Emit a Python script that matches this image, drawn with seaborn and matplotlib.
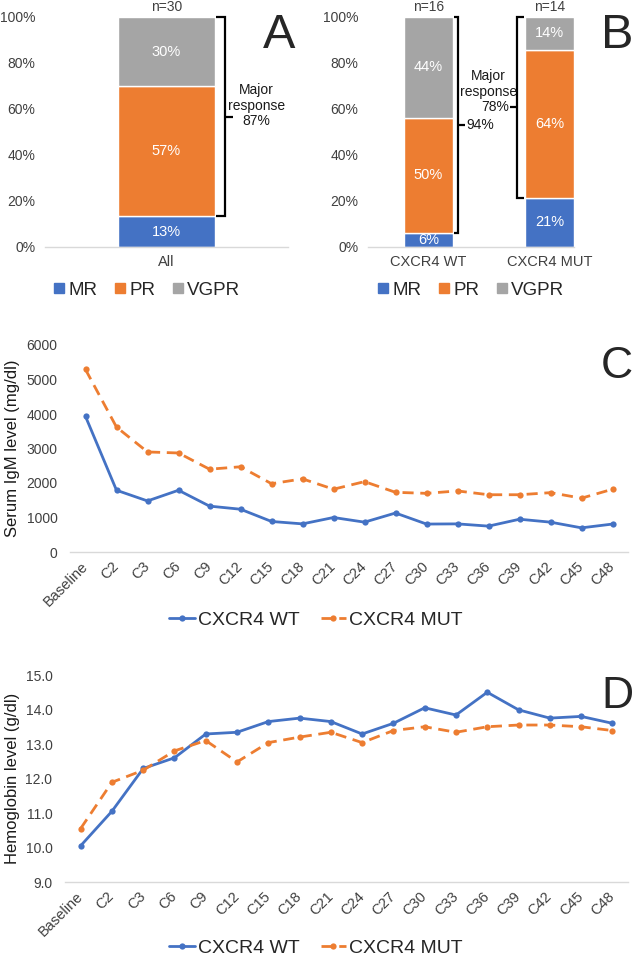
import matplotlib
matplotlib.use("Agg")
import matplotlib.pyplot as plt
from matplotlib.lines import Line2D
import numpy as np
import pandas as pd
import seaborn as sns

# response categories (panels A and B)
responses = ["MR", "PR", "VGPR"]
response_colors = ["#4472C4", "#ED7D31", "#A5A5A5"]

all_groups = ["All"]
all_n = [30]
all_pct = {"MR": [13.3], "PR": [56.7], "VGPR": [30.0]}
all_major = [87]

cxcr4_groups = ["CXCR4 WT", "CXCR4 MUT"]
cxcr4_n = [16, 14]
cxcr4_pct = {"MR": [6.25, 21.4], "PR": [50.0, 64.3], "VGPR": [43.75, 14.3]}
cxcr4_major = [94, 78]

# time courses (panels C and D)
cycles = ["Baseline", "C2", "C3", "C6", "C9", "C12", "C15", "C18", "C21",
          "C24", "C27", "C30", "C33", "C36", "C39", "C42", "C45", "C48"]
igm_wt = [3930, 1790, 1480, 1790, 1330, 1240, 885, 815, 1000,
          865, 1130, 810, 815, 750, 950, 865, 700, 810]
igm_mut = [5290, 3620, 2900, 2870, 2400, 2470, 1980, 2120, 1820,
           2040, 1730, 1700, 1770, 1660, 1660, 1720, 1560, 1820]
hgb_wt = [10.05, 11.05, 12.29, 12.60, 13.29, 13.34, 13.65, 13.75, 13.65,
          13.29, 13.60, 14.05, 13.84, 14.50, 13.99, 13.75, 13.80, 13.60]
hgb_mut = [10.55, 11.89, 12.24, 12.80, 13.10, 12.48, 13.04, 13.20, 13.34,
           13.04, 13.39, 13.50, 13.34, 13.50, 13.55, 13.55, 13.50, 13.39]

WT_COLOR = "#4472C4"
MUT_COLOR = "#ED7D31"
TEXT = "#404040"
BAR_W = 0.4

sns.set_style("white")
plt.rcParams["font.family"] = ["Liberation Sans", "DejaVu Sans"]

W, H = 632, 957
fig = plt.figure(figsize=(W / 100, H / 100), dpi=100)


def add_axes_px(left, top, right, bottom):
    return fig.add_axes([left / W, 1 - bottom / H, (right - left) / W, (bottom - top) / H])


def style_axes(ax):
    for side in ["top", "right", "left"]:
        ax.spines[side].set_visible(False)
    ax.spines["bottom"].set_color("#D9D9D9")
    ax.spines["bottom"].set_linewidth(1.0)
    ax.tick_params(length=0, labelsize=10, labelcolor=TEXT)
    ax.set_xlabel("")
    ax.set_ylabel("")


def stacked_bars(ax, groups, pct, n):
    cum = np.zeros(len(groups))
    for resp, color in zip(responses, response_colors):
        vals = np.array(pct[resp], dtype=float)
        sns.barplot(x=groups, y=vals, bottom=cum, color=color, width=BAR_W,
                    saturation=1, errorbar=None, ax=ax)
        for i, (v, b) in enumerate(zip(vals, cum)):
            ax.text(i, b + v / 2, f"{v:.0f}%", color="white", ha="center",
                    va="center", fontsize=10.5)
        cum = cum + vals
    for i, cnt in enumerate(n):
        ax.annotate(f"n={cnt}", xy=(i, 100), xytext=(0, 2), textcoords="offset points",
                    ha="center", va="bottom", fontsize=10, color=TEXT)
    ax.set_ylim(0, 100)
    ax.set_yticks(range(0, 101, 20))
    ax.set_yticklabels([f"{t}%" for t in range(0, 101, 20)])
    style_axes(ax)
    ax.tick_params(axis="y", pad=7)
    ax.tick_params(axis="x", pad=6, labelsize=10.5)


def brace(ax, px, x_edge, gap, y0, y1, tick, lw=1.6):
    # px: data units per pixel on x; gap > 0 right of bar, < 0 left of bar
    xv = x_edge + gap * px
    x_arm = x_edge + np.sign(gap) * px
    ax.plot([x_arm, xv, xv, x_arm], [y1, y1, y0, y0], color="black", lw=lw,
            clip_on=False, solid_capstyle="butt", solid_joinstyle="miter")
    ym = (y0 + y1) / 2
    ax.plot([xv, xv + tick * px], [ym, ym], color="black", lw=lw, clip_on=False,
            solid_capstyle="butt")
    return xv + tick * px, ym


def bar_legend(x_center, y_center):
    handles = [Line2D([], [], marker="s", linestyle="", color=c, markersize=7)
               for c in response_colors]
    fig.legend(handles, responses, loc="center", ncol=3, frameon=False, fontsize=13.5,
               bbox_to_anchor=(x_center / W, 1 - y_center / H),
               handletextpad=0.2, columnspacing=0.9, handlelength=0.6)


# ---- panel A
axA = add_axes_px(45, 17, 288, 247)
stacked_bars(axA, all_groups, all_pct, all_n)
axA.set_xlim(-0.5, 0.5)
pxA = 1.0 / 243
edge = BAR_W / 2
mr = all_pct["MR"][0]
tx, ty = brace(axA, pxA, edge, 10, mr, 100, 8)
axA.annotate(f"Major\nresponse\n{all_major[0]}%", xy=(tx, ty), xytext=(17, 8),
             textcoords="offset points", ha="center", va="center", fontsize=10,
             linespacing=1.15, color="#1a1a1a")
bar_legend(147, 290)

# ---- panel B
axB = add_axes_px(368, 17, 610, 247)
stacked_bars(axB, cxcr4_groups, cxcr4_pct, cxcr4_n)
axB.set_xlim(-0.5, 1.5)
axB.spines["bottom"].set_bounds(-0.5, 1.2)
pxB = 2.0 / 242
tx, ty = brace(axB, pxB, 0 + BAR_W / 2, 5, cxcr4_pct["MR"][0], 100, 7)
axB.annotate(f"{cxcr4_major[0]}%", xy=(tx, ty), xytext=(1.5, 0), textcoords="offset points",
             ha="left", va="center", fontsize=10, color="#1a1a1a")
tx, ty = brace(axB, pxB, 1 - BAR_W / 2, -8, cxcr4_pct["MR"][1], 100, -7)
axB.annotate(f"{cxcr4_major[1]}%", xy=(tx, ty), xytext=(-0.7, 0), textcoords="offset points",
             ha="right", va="center", fontsize=10, color="#1a1a1a")
axB.annotate("Major\nresponse", xy=(tx, ty), xytext=(-16, 17), textcoords="offset points",
             ha="center", va="center", fontsize=10, linespacing=1.15, color="#1a1a1a")
bar_legend(471, 290)


# ---- line panels
def line_panel(ax, wt, mut, ylim, step, fmt, ylabel, label_x):
    df = pd.DataFrame({
        "cycle": cycles * 2,
        "value": list(wt) + list(mut),
        "group": ["CXCR4 WT"] * len(cycles) + ["CXCR4 MUT"] * len(cycles),
    })
    sns.lineplot(data=df, x="cycle", y="value", hue="group", style="group",
                 palette={"CXCR4 WT": WT_COLOR, "CXCR4 MUT": MUT_COLOR},
                 dashes={"CXCR4 WT": "", "CXCR4 MUT": (4, 2.4)},
                 markers={"CXCR4 WT": "o", "CXCR4 MUT": "o"},
                 markersize=4.5, markeredgewidth=0, linewidth=2.0,
                 sort=False, legend=False, ax=ax)
    ax.set_xlim(-0.5, len(cycles) - 0.5)
    ax.set_ylim(*ylim)
    ticks = np.arange(ylim[0], ylim[1] + step / 2, step)
    ax.set_yticks(ticks)
    ax.set_yticklabels([fmt.format(t) for t in ticks])
    ax.set_xticks(range(len(cycles)))
    ax.set_xticklabels(cycles, rotation=45, ha="right", va="center",
                       rotation_mode="anchor")
    style_axes(ax)
    ax.tick_params(axis="y", pad=9)
    ax.tick_params(axis="x", pad=9, labelsize=10.5)
    ax.set_ylabel(ylabel, fontsize=12, color="#1a1a1a")
    ax.yaxis.set_label_coords(label_x, 0.5)


def line_legend(y_center):
    handles = [
        Line2D([], [], color=WT_COLOR, lw=2.0, marker="o", markersize=4.5, markeredgewidth=0),
        Line2D([], [], color=MUT_COLOR, lw=2.0, marker="o", markersize=4.5,
               markeredgewidth=0, dashes=(4, 2.4)),
    ]
    fig.legend(handles, ["CXCR4 WT", "CXCR4 MUT"], loc="center", ncol=2, frameon=False,
               fontsize=14, bbox_to_anchor=(0.5, 1 - y_center / H),
               handlelength=1.3, handletextpad=0.15, columnspacing=1.1)


axC = add_axes_px(70, 345, 628, 552)
line_panel(axC, igm_wt, igm_mut, (0, 6000), 1000, "{:.0f}", "Serum IgM level (mg/dl)",
           (20 - 70) / 558)
line_legend(620)

axD = add_axes_px(65, 675, 628, 882)
line_panel(axD, hgb_wt, hgb_mut, (9, 15), 1, "{:.1f}", "Hemoglobin level (g/dl)",
           (20 - 65) / 563)
line_legend(948)

# panel letters
for letter, x, y, size in [("A", 279, 35, 35), ("B", 617, 35, 35),
                           ("C", 617, 367, 32), ("D", 617, 697, 32)]:
    fig.text(x / W, 1 - y / H, letter, ha="center", va="center", fontsize=size)

fig.savefig("out.png", dpi=100)
